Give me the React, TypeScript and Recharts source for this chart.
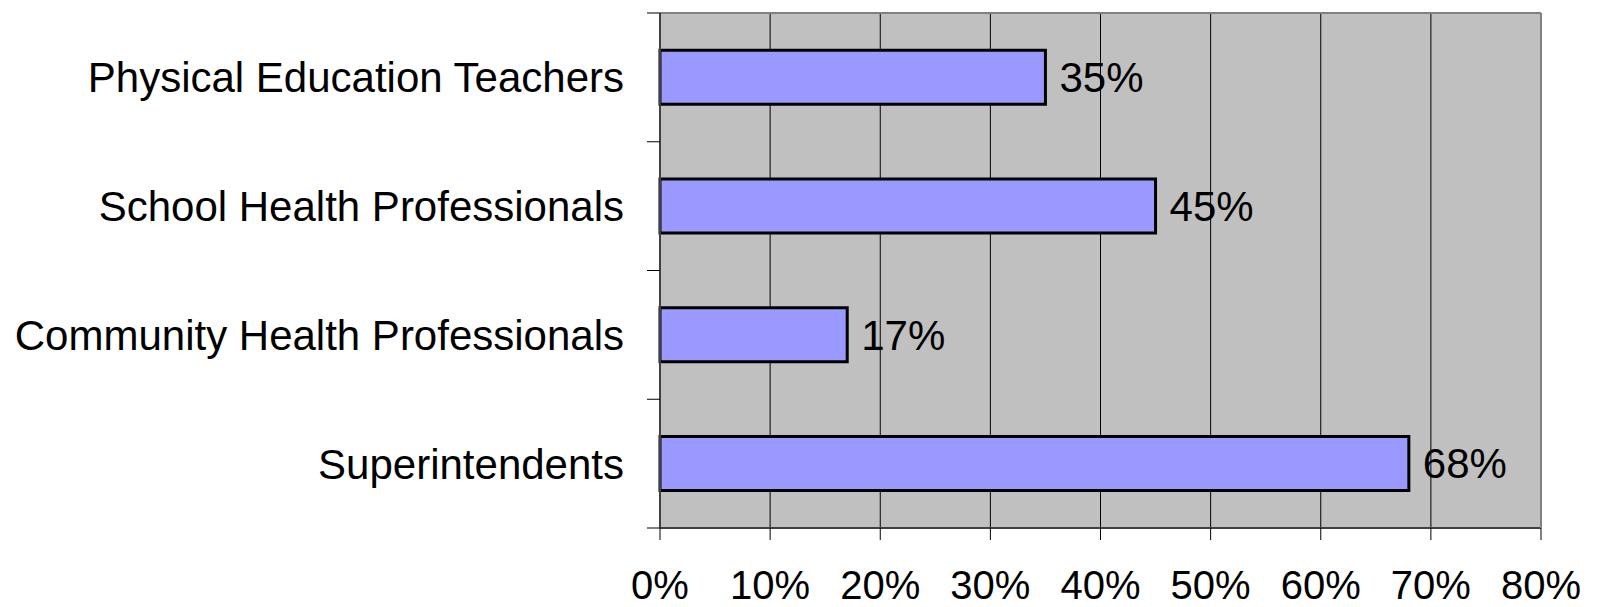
import React from 'react'
import { Bar, BarChart, CartesianGrid, LabelList, XAxis, YAxis } from 'recharts';

// survey groups, top to bottom
const groups = ['Physical Education Teachers', 'School Health Professionals', 'Community Health Professionals', 'Superintendents'];
const percents = [35, 45, 17, 68];
const xTicks = [0, 10, 20, 30, 40, 50, 60, 70, 80];

const FONT = '"Liberation Sans", Arial, sans-serif';

const data = groups.map((name, i) => ({ name, value: percents[i] }));

const emptyTick = () => <g />;

// category label plus small tick marks on the band edges instead of the band centre
const CategoryTick = ({ x, y, payload, index, visibleTicksCount }: any) => {
    const half = payload.offset || 0;
    const axisX = x + 36;
    const isLast = index === visibleTicksCount - 1;
    return (
        <g>
            <line x1={axisX - 13} x2={axisX} y1={y - half} y2={y - half} stroke="#000" strokeWidth={1} />
            {isLast && <line x1={axisX - 13} x2={axisX} y1={y + half} y2={y + half} stroke="#000" strokeWidth={1} />}
            <text x={x} y={y} dy="0.355em" textAnchor="end" fill="#000" fontSize={42} fontFamily={FONT}>
                {payload.value}
            </text>
        </g>
    );
};

export default function App() {
    return (
        <div style={{ fontFamily: FONT }}>
            <BarChart
                width={1590}
                height={599}
                data={data}
                layout="vertical"
                margin={{ top: 4, right: 56, bottom: 0, left: 0 }}
                barCategoryGap="29%"
            >
                <CartesianGrid horizontal={false} stroke="#000" strokeWidth={1} fill="#C0C0C0" fillOpacity={1} verticalValues={[10, 20, 30, 40, 50, 60, 70]} />
                <XAxis
                    type="number"
                    domain={[0, 80]}
                    ticks={xTicks}
                    tickFormatter={(v: number) => `${v}%`}
                    height={79}
                    tickSize={12}
                    tickMargin={31}
                    stroke="#404040"
                    axisLine={{ stroke: '#404040', strokeWidth: 2 }}
                    tickLine={{ stroke: '#000', strokeWidth: 1 }}
                    tick={{ fill: '#000', fontSize: 40, fontFamily: FONT }}
                    interval={0}
                />
                <XAxis xAxisId="top" orientation="top" type="number" domain={[0, 80]} height={1} tick={emptyTick} tickLine={false} axisLine={{ stroke: '#808080', strokeWidth: 2 }} />
                <YAxis
                    type="category"
                    dataKey="name"
                    width={652}
                    tickSize={0}
                    tickMargin={36}
                    tickLine={false}
                    axisLine={{ stroke: '#404040', strokeWidth: 2 }}
                    tick={<CategoryTick />}
                    interval={0}
                />
                <YAxis yAxisId="right" orientation="right" type="category" dataKey="name" width={1} tick={emptyTick} tickLine={false} axisLine={{ stroke: '#808080', strokeWidth: 2 }} />
                <Bar dataKey="value" fill="#9999FF" stroke="#000" strokeWidth={3} isAnimationActive={false}>
                    <LabelList dataKey="value" position="right" offset={14} formatter={(v: number) => `${v}%`} fill="#000" fontSize={42} fontFamily={FONT} />
                </Bar>
            </BarChart>
        </div>
    )
}
